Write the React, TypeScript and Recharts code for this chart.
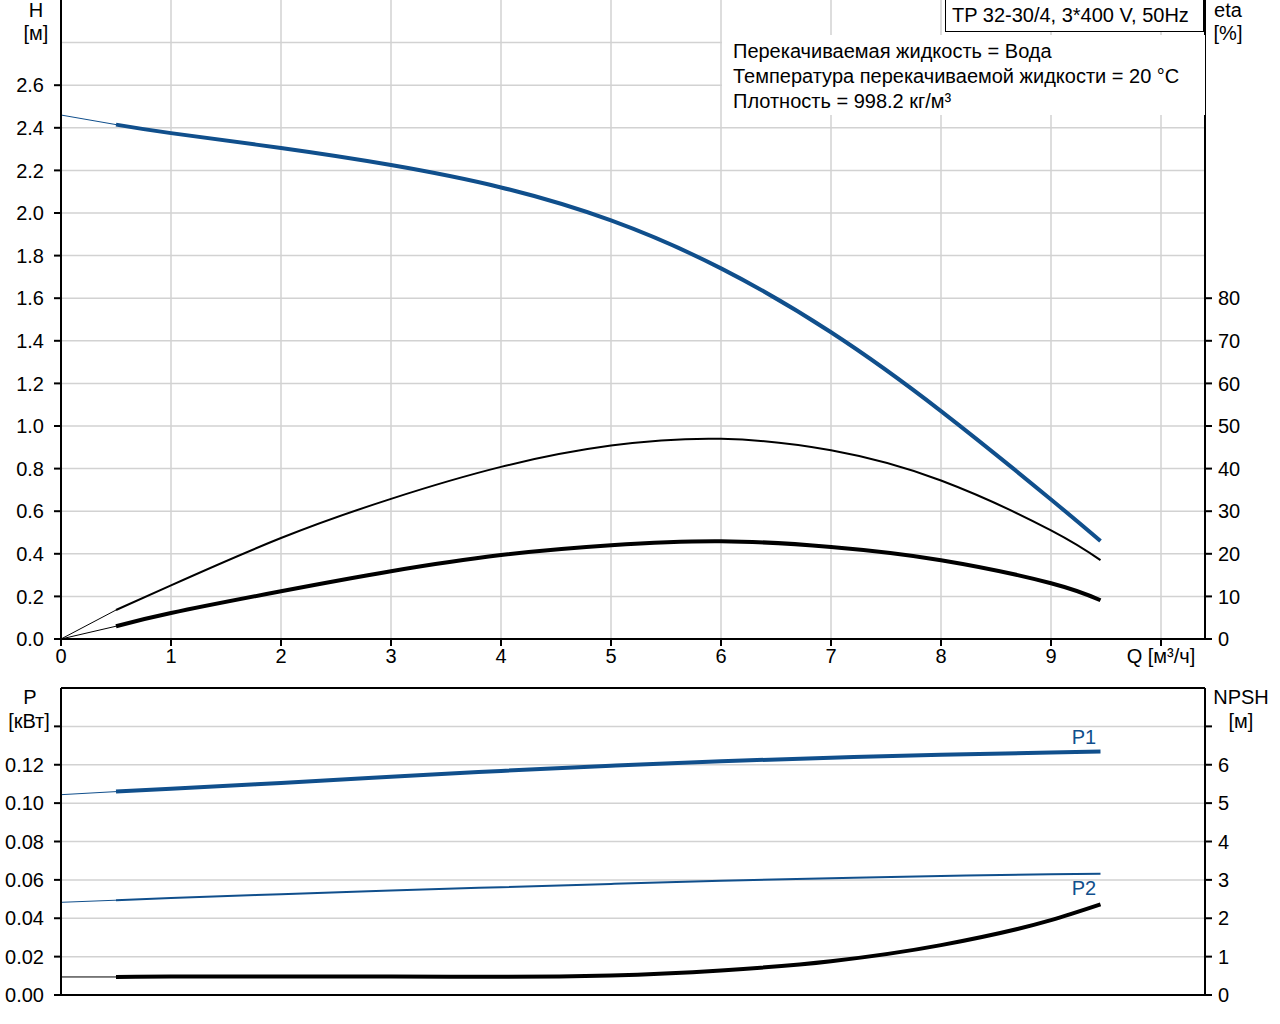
import React from 'react';
import { ComposedChart, Line, XAxis, YAxis, CartesianGrid, ReferenceLine } from 'recharts';

const flowQ = [0, 0.5, 1, 2, 3, 4, 5, 6, 7, 8, 9, 9.45];
const headH = [2.46, 2.415, 2.375, 2.305, 2.225, 2.12, 1.965, 1.74, 1.44, 1.07, 0.655, 0.46];
const etaPump = [0, 6.8, 12.6, 23.7, 32.9, 40.4, 45.4, 47.0, 44.3, 37.2, 25.5, 18.5];
const etaTotal = [0, 3.0, 6.1, 11.2, 15.9, 19.7, 22.0, 22.95, 21.6, 18.5, 13.1, 9.1];
const powerP1 = [0.1044, 0.106, 0.1075, 0.1105, 0.1137, 0.1168, 0.1195, 0.1218, 0.1237, 0.1252, 0.1264, 0.1269];
const powerP2 = [0.0483, 0.0494, 0.0505, 0.0525, 0.0544, 0.0562, 0.0579, 0.0595, 0.0609, 0.062, 0.0629, 0.0632];
const npshR = [0.47, 0.47, 0.48, 0.485, 0.48, 0.475, 0.51, 0.64, 0.88, 1.3, 1.95, 2.36];

const qTicks = [0, 1, 2, 3, 4, 5, 6, 7, 8, 9, 10];
const qGrid = [1, 2, 3, 4, 5, 6, 7, 8, 9, 10];
const hTicks = [0, 0.2, 0.4, 0.6, 0.8, 1.0, 1.2, 1.4, 1.6, 1.8, 2.0, 2.2, 2.4, 2.6];
const hGrid = [0.2, 0.4, 0.6, 0.8, 1.0, 1.2, 1.4, 1.6, 1.8, 2.0, 2.2, 2.4, 2.6, 2.8];
const etaTicks = [0, 10, 20, 30, 40, 50, 60, 70, 80];
const pTicks = [0, 0.02, 0.04, 0.06, 0.08, 0.1, 0.12, 0.14];
const pGrid = [0.02, 0.04, 0.06, 0.08, 0.1, 0.12, 0.14];
const npshTicks = [0, 1, 2, 3, 4, 5, 6, 7];

const titleText = 'TP 32-30/4, 3*400 V, 50Hz';
const infoLines = [
  'Перекачиваемая жидкость = Вода',
  'Температура перекачиваемой жидкости = 20 °C',
  'Плотность = 998.2 кг/м³',
];

const lead = (arr: number[], i: number) => (i <= 1 ? arr[i] : null);
const main = (arr: number[], i: number) => (i >= 1 ? arr[i] : null);

const data = flowQ.map((q, i) => ({
  q,
  hLead: lead(headH, i),
  h: main(headH, i),
  etaLead: lead(etaPump, i),
  eta: main(etaPump, i),
  etaTLead: lead(etaTotal, i),
  etaT: main(etaTotal, i),
  p1Lead: lead(powerP1, i),
  p1: main(powerP1, i),
  p2Lead: lead(powerP2, i),
  p2: main(powerP2, i),
  npshLead: lead(npshR, i),
  npsh: main(npshR, i),
}));

const FONT = '"Liberation Sans", Arial, sans-serif';
const FS = 20;
const BLUE = '#104f8c';
const GRID = '#d2d2d2';
const tickStyle = { fill: '#000', fontSize: FS, fontFamily: FONT };
const axisLine = { stroke: '#000', strokeWidth: 2 };

const abs = (x: number, y: number, extra: React.CSSProperties = {}): React.CSSProperties => ({
  position: 'absolute',
  left: x,
  top: y,
  fontFamily: FONT,
  fontSize: FS,
  color: '#000',
  whiteSpace: 'nowrap',
  lineHeight: '22px',
  ...extra,
});

const centered = (cx: number, cy: number, text: string, color = '#000') => (
  <div style={abs(cx - 60, cy - 11, { width: 120, textAlign: 'center', color })}>{text}</div>
);

export default function App() {
  return (
    <div style={{ position: 'absolute', left: 0, top: 0, width: 1280, height: 1024, background: '#fff' }}>
      <div style={{ position: 'absolute', left: 0, top: 0 }}>
        <ComposedChart width={1280} height={680} data={data} margin={{ top: 0, right: 0, bottom: 0, left: 0 }}>
          <CartesianGrid yAxisId="h" stroke={GRID} strokeWidth={1.5} horizontalValues={hGrid} verticalValues={qGrid} />
          <XAxis
            dataKey="q"
            type="number"
            domain={[0, 10.4]}
            ticks={qTicks}
            allowDataOverflow
            height={41}
            tickSize={7}
            tickMargin={3}
            tick={tickStyle}
            tickLine={axisLine}
            axisLine={axisLine}
            tickFormatter={(v: number) => (v === 10 ? 'Q [м³/ч]' : String(v))}
          />
          <YAxis
            yAxisId="h"
            orientation="left"
            width={61}
            domain={[0, 3]}
            ticks={hTicks}
            allowDataOverflow
            tickSize={7}
            tickMargin={10}
            tick={tickStyle}
            tickLine={axisLine}
            axisLine={axisLine}
            tickFormatter={(v: number) => v.toFixed(1)}
          />
          <YAxis
            yAxisId="eta"
            orientation="right"
            width={75}
            domain={[0, 150]}
            ticks={etaTicks}
            allowDataOverflow
            tickSize={7}
            tickMargin={6}
            tick={{ ...tickStyle, textAnchor: 'start' }}
            tickLine={axisLine}
            axisLine={axisLine}
          />
          <Line yAxisId="h" dataKey="hLead" type="linear" stroke={BLUE} strokeWidth={1} dot={false} activeDot={false} isAnimationActive={false} />
          <Line yAxisId="h" dataKey="h" type="natural" stroke={BLUE} strokeWidth={4} dot={false} activeDot={false} isAnimationActive={false} />
          <Line yAxisId="eta" dataKey="etaLead" type="linear" stroke="#000" strokeWidth={1} dot={false} activeDot={false} isAnimationActive={false} />
          <Line yAxisId="eta" dataKey="eta" type="natural" stroke="#000" strokeWidth={2} dot={false} activeDot={false} isAnimationActive={false} />
          <Line yAxisId="eta" dataKey="etaTLead" type="linear" stroke="#000" strokeWidth={1} dot={false} activeDot={false} isAnimationActive={false} />
          <Line yAxisId="eta" dataKey="etaT" type="natural" stroke="#000" strokeWidth={4} dot={false} activeDot={false} isAnimationActive={false} />
        </ComposedChart>
      </div>

      <div style={{ position: 'absolute', left: 0, top: 680 }}>
        <ComposedChart width={1280} height={344} data={data} margin={{ top: 8, right: 0, bottom: 0, left: 0 }}>
          <CartesianGrid yAxisId="p" stroke={GRID} strokeWidth={1.5} horizontalValues={pGrid} verticalValues={qGrid} />
          <XAxis
            dataKey="q"
            type="number"
            domain={[0, 10.4]}
            ticks={qTicks}
            allowDataOverflow
            height={29}
            tick={false}
            tickLine={false}
            axisLine={axisLine}
          />
          <YAxis
            yAxisId="p"
            orientation="left"
            width={61}
            domain={[0, 0.16]}
            ticks={pTicks}
            allowDataOverflow
            tickSize={7}
            tickMargin={10}
            tick={tickStyle}
            tickLine={axisLine}
            axisLine={axisLine}
            tickFormatter={(v: number) => (v > 0.13 ? '' : v.toFixed(2))}
          />
          <YAxis
            yAxisId="npsh"
            orientation="right"
            width={75}
            domain={[0, 8]}
            ticks={npshTicks}
            allowDataOverflow
            tickSize={7}
            tickMargin={6}
            tick={{ ...tickStyle, textAnchor: 'start' }}
            tickLine={axisLine}
            axisLine={axisLine}
            tickFormatter={(v: number) => (v === 7 ? '' : String(v))}
          />
          <ReferenceLine yAxisId="p" y={0.16} stroke="#000" strokeWidth={2} />
          <Line yAxisId="p" dataKey="p1Lead" type="linear" stroke={BLUE} strokeWidth={1} dot={false} activeDot={false} isAnimationActive={false} />
          <Line yAxisId="p" dataKey="p1" type="natural" stroke={BLUE} strokeWidth={4} dot={false} activeDot={false} isAnimationActive={false} />
          <Line yAxisId="p" dataKey="p2Lead" type="linear" stroke={BLUE} strokeWidth={1} dot={false} activeDot={false} isAnimationActive={false} />
          <Line yAxisId="p" dataKey="p2" type="natural" stroke={BLUE} strokeWidth={2} dot={false} activeDot={false} isAnimationActive={false} />
          <Line yAxisId="npsh" dataKey="npshLead" type="linear" stroke="#000" strokeWidth={1} dot={false} activeDot={false} isAnimationActive={false} />
          <Line yAxisId="npsh" dataKey="npsh" type="monotone" stroke="#000" strokeWidth={4} dot={false} activeDot={false} isAnimationActive={false} />
        </ComposedChart>
      </div>

      <div style={abs(722, 35, { width: 483, height: 80, background: '#fff' })} />
      {infoLines.map((t, i) => (
        <div key={t} style={abs(733, 40 + i * 25)}>{t}</div>
      ))}
      <div
        style={abs(945, -1, {
          width: 259,
          height: 33,
          border: '1px solid #000',
          background: '#fff',
          boxSizing: 'border-box',
          paddingLeft: 6,
          lineHeight: '31px',
        })}
      >
        {titleText}
      </div>

      {centered(36, 10, 'H')}
      {centered(36, 33, '[м]')}
      {centered(1228, 10, 'eta')}
      {centered(1228, 33, '[%]')}
      {centered(30, 697, 'P')}
      {centered(29, 721, '[кВт]')}
      {centered(1241, 697, 'NPSH')}
      {centered(1241, 721, '[м]')}
      {centered(1084, 737, 'P1', BLUE)}
      {centered(1084, 888, 'P2', BLUE)}
    </div>
  );
}
